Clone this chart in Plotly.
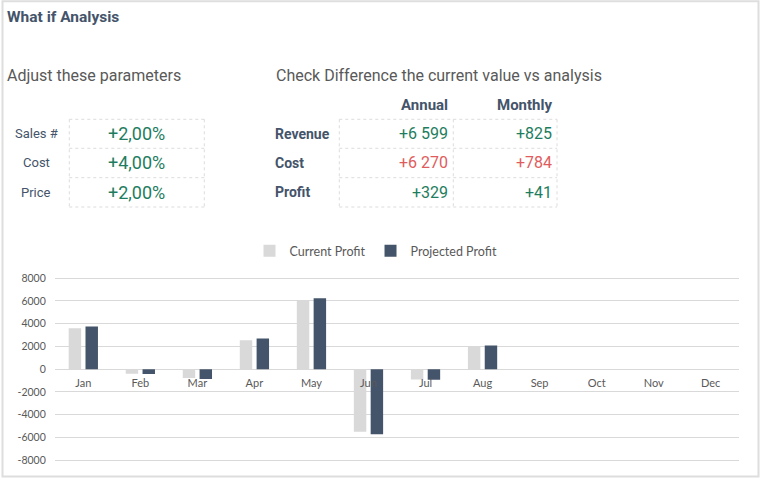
import plotly.graph_objects as go

W, H = 760, 478

# ---------------- data ----------------
MONTHS = ["Jan", "Feb", "Mar", "Apr", "May", "Jun", "Jul", "Aug", "Sep", "Oct", "Nov", "Dec"]
CURRENT_PROFIT = [3600, -400, -780, 2550, 6030, -5510, -910, 1960, None, None, None, None]
PROJECTED_PROFIT = [3750, -420, -870, 2700, 6240, -5720, -930, 2080, None, None, None, None]

Y_TICKS = [-8000, -6000, -4000, -2000, 0, 2000, 4000, 6000, 8000]
Y_TICK_LABELS = ["-8000", "-6000", "-4000", "-2000", "0", "2000", "4000", "6000", "8000"]

PARAM_LABELS = ["Sales #", "Cost", "Price"]
PARAM_VALUES = ["+2,00%", "+4,00%", "+2,00%"]

DIFF_ROWS = ["Revenue", "Cost", "Profit"]
DIFF_HEADERS = ["Annual", "Monthly"]
DIFF_ANNUAL = ["+6 599", "+6 270", "+329"]
DIFF_MONTHLY = ["+825", "+784", "+41"]
DIFF_IS_COST = [False, True, False]

# ---------------- style ----------------
GREEN = "#1E7D5E"
RED = "#E05C5C"
SLATE = "#44546A"
GREY_TXT = "#595959"
GRID = "#D9D9D9"
UI_FONT = "Roboto"
CHART_FONT = "Lato"


def px(x):
    return x / W


def py(y):
    return 1 - y / H


# plot geometry (pixels)
PLOT_X0, PLOT_X1 = 54.8, 739.2
Y_ZERO_PX = 369.2
PX_PER_UNIT = 91.0 / 8000
R = 8100
top_px = Y_ZERO_PX - R * PX_PER_UNIT
bot_px = Y_ZERO_PX + R * PX_PER_UNIT

fig = go.Figure()
fig.add_trace(go.Bar(x=MONTHS, y=CURRENT_PROFIT, name="Current Profit",
                     marker=dict(color="#D9D9D9", line=dict(width=0))))
fig.add_trace(go.Bar(x=MONTHS, y=PROJECTED_PROFIT, name="Projected Profit",
                     marker=dict(color=SLATE, line=dict(width=0))))

shapes = []
annotations = []

# outer frame
shapes.append(dict(type="rect", xref="paper", yref="paper",
                   x0=px(2.5), x1=px(758.5), y0=py(476.5), y1=py(1.2),
                   line=dict(color="#DEDEDE", width=2), layer="below"))


def hline(x0, x1, y):
    shapes.append(dict(type="line", xref="paper", yref="paper",
                       x0=px(x0), x1=px(x1), y0=py(y), y1=py(y),
                       line=dict(color="#DCDCDC", width=1, dash="dot")))


def vline(x, y0, y1):
    shapes.append(dict(type="line", xref="paper", yref="paper",
                       x0=px(x), x1=px(x), y0=py(y0), y1=py(y1),
                       line=dict(color="#DCDCDC", width=1, dash="dot")))


def text(t, x, y, size, color, xanchor="left", bold=False, font=UI_FONT):
    if bold:
        t = "<b>" + t + "</b>"
    annotations.append(dict(text=t, x=px(x), y=py(y), xref="paper", yref="paper",
                            xanchor=xanchor, yanchor="middle", showarrow=False,
                            font=dict(family=font, size=size, color=color)))


# titles
text("What if Analysis", 5, 17, 15.5, SLATE, bold=True)
text("Adjust these parameters", 5, 76, 16, GREY_TXT)
text("Check Difference the current value vs analysis", 274, 76, 16, GREY_TXT)

ROWS_Y = [119.3, 148.3, 177.7, 207]

# left table
LX0, LX1 = 69.3, 204.3
for yy in ROWS_Y:
    hline(LX0, LX1, yy)
vline(LX0, ROWS_Y[0], ROWS_Y[-1])
vline(LX1, ROWS_Y[0], ROWS_Y[-1])
for i, (lab, val) in enumerate(zip(PARAM_LABELS, PARAM_VALUES)):
    cy = (ROWS_Y[i] + ROWS_Y[i + 1]) / 2
    text(lab, 36, cy, 13, SLATE, xanchor="center")
    text(val, (LX0 + LX1) / 2, cy, 18, GREEN, xanchor="center")

# right table
RX0, RXM, RX1 = 339.3, 453.3, 557
for yy in ROWS_Y:
    hline(RX0, RX1, yy)
for xx in (RX0, RXM, RX1):
    vline(xx, ROWS_Y[0], ROWS_Y[-1])
text(DIFF_HEADERS[0], 450, 105, 15, SLATE, xanchor="right", bold=True)
text(DIFF_HEADERS[1], 554, 105, 15, SLATE, xanchor="right", bold=True)
for i, lab in enumerate(DIFF_ROWS):
    cy = (ROWS_Y[i] + ROWS_Y[i + 1]) / 2
    col = RED if DIFF_IS_COST[i] else GREEN
    text(lab, 273, cy, 14, SLATE, bold=True)
    text(DIFF_ANNUAL[i], 450, cy, 16, col, xanchor="right")
    text(DIFF_MONTHLY[i], 554, cy, 16, col, xanchor="right")

ydom = [py(bot_px), py(top_px)]
zero_paper = py(Y_ZERO_PX)

fig.update_layout(
    width=W, height=H,
    margin=dict(l=0, r=0, t=0, b=0, pad=0, autoexpand=False),
    paper_bgcolor="white", plot_bgcolor="white",
    barmode="group", bargap=0.41, bargroupgap=0.26,
    shapes=shapes, annotations=annotations,
    showlegend=True,
    legend=dict(orientation="h", x=px(376), y=py(251), xanchor="center", yanchor="middle",
                font=dict(family=CHART_FONT, size=12.5, color=GREY_TXT),
                itemwidth=30, tracegroupgap=0),
    xaxis=dict(domain=[px(PLOT_X0), px(PLOT_X1)], anchor="free", position=zero_paper,
               showgrid=False, showline=False, zeroline=False, automargin=False,
               ticks="outside", ticklen=4, tickcolor="rgba(0,0,0,0)",
               tickfont=dict(family=CHART_FONT, size=11, color=GREY_TXT),
               fixedrange=True),
    yaxis=dict(domain=ydom, range=[-R, R], tickvals=Y_TICKS, ticktext=Y_TICK_LABELS,
               showgrid=True, gridcolor=GRID, gridwidth=1, automargin=False,
               zeroline=True, zerolinecolor=GRID, zerolinewidth=1,
               showline=False, ticks="", ticklabelstandoff=8,
               tickfont=dict(family=CHART_FONT, size=10.5, color=GREY_TXT)),
)

fig.write_html("out.html", config={"displayModeBar": False},
               post_script="document.body.style.margin='0';")
